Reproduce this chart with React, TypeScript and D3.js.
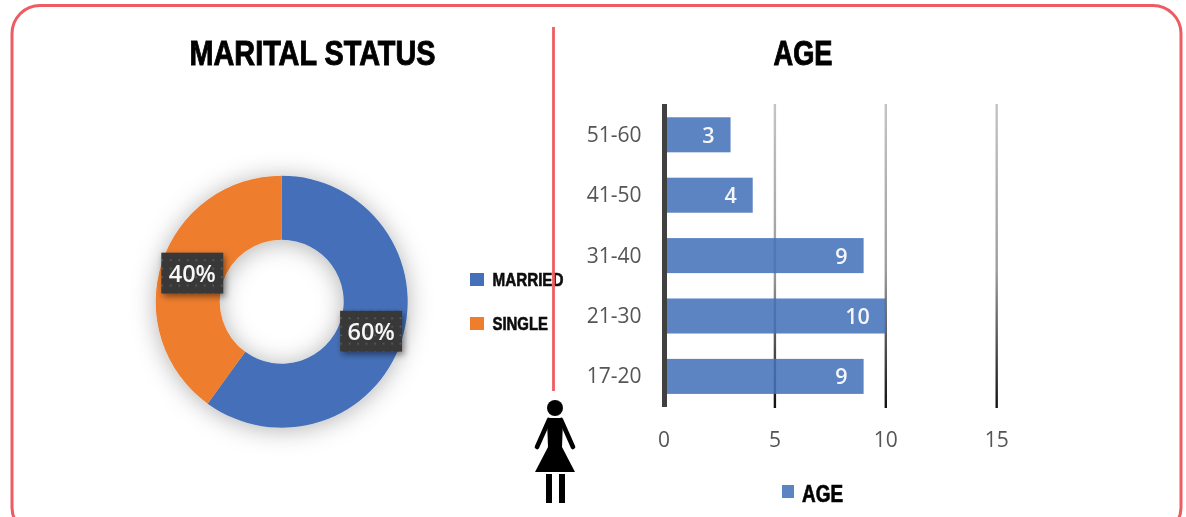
import React from "react";
import * as d3 from "d3";

const maritalLabels = ["MARRIED", "SINGLE"];
const maritalValues = [60, 40];
const maritalColors = ["#4470b9", "#ee7d2e"];
const ageCategories = ["51-60", "41-50", "31-40", "21-30", "17-20"];
const ageValues = [3, 4, 9, 10, 9];
const ageTicks = [0, 5, 10, 15];

const W = 1186;
const H = 517;
const red = "#ee5c62";
const narrow = "'Liberation Sans Narrow','Liberation Sans',sans-serif";
const sans = "'Open Sans',sans-serif";

const cx = 281.7;
const cy = 301.7;
const x = d3.scaleLinear().domain([0, 15]).range([664, 996.7]);
const y = d3.scaleBand<string>().domain(ageCategories).range([104.6, 406.6]).paddingInner(0.42).paddingOuter(0.21);
const pie = d3.pie<number>().sort(null).startAngle(0).endAngle(2 * Math.PI);
const arc = d3.arc<d3.PieArcDatum<number>>().innerRadius(62).outerRadius(126);
const arcs = pie(maritalValues);

export default function App() {
  return (
    <svg width={W} height={H} viewBox={`0 0 ${W} ${H}`} style={{ position: "absolute", left: 0, top: 0, background: "#fff" }}>
      <defs>
        <filter id="soft" x="-5%" y="-5%" width="110%" height="110%">
          <feGaussianBlur stdDeviation="0.7" />
        </filter>
        <filter id="dshadow" x="-30%" y="-30%" width="160%" height="160%">
          <feDropShadow dx="0" dy="2" stdDeviation="12" floodColor="#000" floodOpacity="0.3" />
        </filter>
        <filter id="bshadow" x="-30%" y="-30%" width="160%" height="170%">
          <feDropShadow dx="2" dy="3" stdDeviation="3" floodColor="#000" floodOpacity="0.45" />
        </filter>
        <pattern id="dots" width="8.5" height="8.5" patternUnits="userSpaceOnUse">
          <rect width="8.5" height="8.5" fill="#383838" />
          <circle cx="4" cy="4" r="1" fill="#5e5e5e" />
        </pattern>
        <linearGradient id="grid" gradientUnits="userSpaceOnUse" x1="0" y1="104" x2="0" y2="408">
          <stop offset="0" stopColor="#c4c4c4" />
          <stop offset="0.55" stopColor="#9c9c9c" />
          <stop offset="1" stopColor="#111" />
        </linearGradient>
      </defs>

      <g filter="url(#soft)">
        <rect x={12} y={5.5} width={1169} height={530} rx={28} fill="#fff" stroke={red} strokeWidth={3} />

        <text x={312.5} y={65} textAnchor="middle" fontFamily={narrow} fontWeight={700} fontSize={35} textLength={246} lengthAdjust="spacingAndGlyphs" fill="#050505" stroke="#050505" strokeWidth={1}>MARITAL STATUS</text>
        <text x={803} y={65} textAnchor="middle" fontFamily={narrow} fontWeight={700} fontSize={35} textLength={59} lengthAdjust="spacingAndGlyphs" fill="#050505" stroke="#050505" strokeWidth={1}>AGE</text>

        <g transform={`translate(${cx},${cy})`}>
          <g filter="url(#dshadow)">
            {arcs.map((a, i) => (
              <path key={maritalLabels[i]} d={arc(a) ?? ""} fill={maritalColors[i]} />
            ))}
          </g>
          {arcs.map((a) => {
            const [px, py] = arc.centroid(a);
            return (
              <g key={a.index} transform={`translate(${px},${py + 0.5})`}>
                <rect x={-31} y={-20.5} width={62} height={41} fill="url(#dots)" filter="url(#bshadow)" />
                <text y={8.5} textAnchor="middle" fontFamily={sans} fontWeight={600} fontSize={23.5} fill="#f7f7f7">{a.data}%</text>
              </g>
            );
          })}
        </g>

        {maritalLabels.map((l, i) => (
          <g key={l} transform={`translate(470,${273 + i * 44})`}>
            <rect width={14} height={13} fill={maritalColors[i]} />
            <text x={22.5} y={13} fontFamily={narrow} fontWeight={700} fontSize={18} textLength={i === 0 ? 71 : 55.5} lengthAdjust="spacingAndGlyphs" fill="#0e0e0e" stroke="#0e0e0e" strokeWidth={0.6}>{l}</text>
          </g>
        ))}

        {ageTicks.slice(1).map((t) => (
          <line key={t} x1={x(t)} x2={x(t)} y1={104} y2={408} stroke="url(#grid)" strokeWidth={2.4} />
        ))}
        {ageCategories.map((c, i) => (
          <rect key={c} x={x(0) + 2} y={y(c)} width={x(ageValues[i]) - x(0) - 2} height={y.bandwidth()} fill="#4472b9" fillOpacity={0.88} />
        ))}
        <line x1={x(0) + 0.5} x2={x(0) + 0.5} y1={104} y2={407} stroke="#3f3f3f" strokeWidth={5} />
        {ageCategories.map((c, i) => (
          <g key={c}>
            <text x={641.5} y={(y(c) ?? 0) + y.bandwidth() / 2 + 7} textAnchor="end" fontFamily={sans} fontSize={21} fill="#555">{c}</text>
            <text x={x(ageValues[i]) - 16} y={(y(c) ?? 0) + y.bandwidth() / 2 + 8} textAnchor="end" fontFamily={sans} fontWeight={600} fontSize={21.5} fill="#f4f6fb">{ageValues[i]}</text>
          </g>
        ))}
        {ageTicks.map((t) => (
          <text key={t} x={x(t)} y={447} textAnchor="middle" fontFamily={sans} fontSize={21} fill="#555">{t}</text>
        ))}
        <rect x={782} y={485} width={12} height={13} fill="#4472b9" fillOpacity={0.88} />
        <text x={802} y={502} fontFamily={narrow} fontWeight={700} fontSize={23} textLength={41} lengthAdjust="spacingAndGlyphs" fill="#050505" stroke="#050505" strokeWidth={0.7}>AGE</text>

        <line x1={553.5} x2={553.5} y1={27} y2={391} stroke={red} strokeWidth={2.8} />

        <g fill="#050505" stroke="none">
          <circle cx={555} cy={408} r={8} />
          <path d="M550 418 H560 C561.5 418 562.5 419 563 421 L562 447 L575 472 H535 L548 447 L547 421 C547.5 419 548.5 418 550 418 Z" />
          <path d="M549 420 L537 447 M561 420 L573 447" fill="none" stroke="#050505" strokeWidth={4.6} strokeLinecap="round" />
          <rect x={546} y={474} width={6} height={29} />
          <rect x={559} y={474} width={6} height={29} />
        </g>
      </g>
    </svg>
  );
}
